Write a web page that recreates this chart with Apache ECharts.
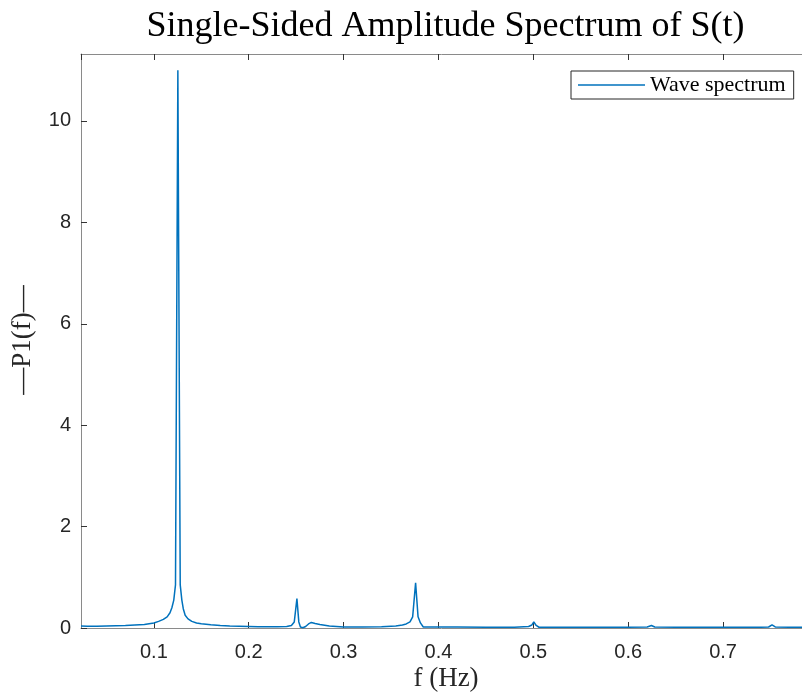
<!DOCTYPE html>
<html>
<head>
<meta charset="utf-8">
<script src="https://cdn.jsdelivr.net/npm/echarts@6/dist/echarts.min.js"></script>
<style>
html,body{margin:0;padding:0;background:#fff;}
#chart{width:802px;height:697px;}
</style>
</head>
<body>
<div id="chart"></div>
<script>
// ---- data ----
const freq = [
  0.0232, 0.03, 0.04, 0.05, 0.06, 0.07, 0.08, 0.09, 0.095,
  0.100, 0.105, 0.110, 0.114, 0.117, 0.119, 0.121, 0.1228, 0.1253, 0.1278, 0.1295, 0.131, 0.133, 0.136, 0.140, 0.145, 0.150,
  0.160, 0.170, 0.180, 0.190, 0.200, 0.210, 0.220, 0.230, 0.240,
  0.245, 0.248, 0.2508, 0.2528, 0.2545, 0.257, 0.260, 0.263, 0.266, 0.270, 0.275, 0.285, 0.300,
  0.320, 0.340, 0.355, 0.362, 0.366, 0.370, 0.3728, 0.3759, 0.3785, 0.381, 0.384, 0.390, 0.400,
  0.420, 0.450, 0.480, 0.495, 0.4985, 0.5005, 0.503, 0.506, 0.520,
  0.560, 0.600, 0.620, 0.6245, 0.628, 0.650, 0.700, 0.740, 0.748, 0.7516, 0.755, 0.770, 0.7832
];
const amp = [
  0.04, 0.035, 0.035, 0.04, 0.045, 0.05, 0.06, 0.07, 0.085,
  0.10, 0.13, 0.17, 0.22, 0.30, 0.40, 0.55, 0.85, 11.0, 0.85, 0.55, 0.38, 0.25, 0.18, 0.13, 0.10, 0.085,
  0.065, 0.05, 0.04, 0.035, 0.03, 0.025, 0.025, 0.025, 0.03,
  0.05, 0.12, 0.58, 0.12, 0.02, 0.005, 0.03, 0.08, 0.11, 0.09, 0.07, 0.04, 0.02,
  0.02, 0.025, 0.04, 0.06, 0.08, 0.12, 0.22, 0.89, 0.22, 0.10, 0.02, 0.02, 0.02,
  0.02, 0.015, 0.015, 0.03, 0.06, 0.12, 0.05, 0.015, 0.015,
  0.015, 0.015, 0.02, 0.05, 0.02, 0.015, 0.015, 0.015, 0.02, 0.06, 0.02, 0.015, 0.015
];
const seriesName = 'Wave spectrum';
const titleText = 'Single-Sided Amplitude Spectrum of S(t)';
const xLabelText = 'f (Hz)';
const yLabelText = '\u2014P1(f)\u2014';
const xMin = 0.0232, xMax = 0.7832;
const yMin = 0, yMax = 11.32;

const points = freq.map((f, i) => [f, amp[i]]);

const axisLineColor = '#8a8a8a';
const tickColor = '#333333';
const textColor = '#262626';
const lineColor = '#0072BD';

const chart = echarts.init(document.getElementById('chart'), null, {renderer: 'canvas'});
chart.setOption({
  animation: false,
  backgroundColor: '#ffffff',
  grid: {left: 81, top: 54, right: 0, bottom: 697 - 628, containLabel: false},
  legend: {
    data: [{name: seriesName, icon: 'rect', itemStyle: {color: lineColor}}],
    left: 571, top: 71,
    orient: 'vertical',
    itemWidth: 67, itemHeight: 1.5, itemGap: 0,
    padding: [3, 8, 3, 7],
    backgroundColor: '#ffffff',
    borderColor: '#262626', borderWidth: 1, borderRadius: 0,
    textStyle: {fontFamily: '"Liberation Serif", serif', fontSize: 22, color: '#000'}
  },
  xAxis: [{
    type: 'value', position: 'bottom', min: xMin, max: xMax,
    splitNumber: 8, minInterval: 0.1, maxInterval: 0.1,
    axisLine: {show: true, onZero: false, lineStyle: {color: axisLineColor, width: 1}},
    axisTick: {show: true, inside: true, length: 6, lineStyle: {color: tickColor, width: 1}},
    axisLabel: {show: true, showMinLabel: false, showMaxLabel: false, margin: 14,
      fontFamily: '"Liberation Sans", Arial, sans-serif', fontSize: 20, color: textColor},
    splitLine: {show: false}
  }, {
    type: 'value', position: 'top', min: xMin, max: xMax,
    splitNumber: 8, minInterval: 0.1, maxInterval: 0.1,
    axisLine: {show: true, onZero: false, lineStyle: {color: axisLineColor, width: 1}},
    axisTick: {show: true, inside: true, length: 6, lineStyle: {color: tickColor, width: 1}},
    axisLabel: {show: false},
    splitLine: {show: false}
  }],
  yAxis: [{
    type: 'value', min: yMin, max: yMax, interval: 2,
    axisLine: {show: true, onZero: false, lineStyle: {color: axisLineColor, width: 1}},
    axisTick: {show: true, inside: true, length: 6, lineStyle: {color: tickColor, width: 1}},
    axisLabel: {show: true, showMaxLabel: false, margin: 10,
      fontFamily: '"Liberation Sans", Arial, sans-serif', fontSize: 20, color: textColor},
    splitLine: {show: false}
  }],
  series: [{
    name: seriesName,
    type: 'line',
    xAxisIndex: 0, yAxisIndex: 0,
    data: points,
    symbol: 'none', showSymbol: false,
    lineStyle: {color: lineColor, width: 1.5},
    itemStyle: {color: lineColor},
    clip: true
  }],
  graphic: [
    {type: 'text', x: 445.5, y: 27, style: {text: titleText, font: '36px "Liberation Serif", serif', fill: '#000', align: 'center', verticalAlign: 'middle'}},
    {type: 'text', x: 446, y: 679, style: {text: xLabelText, font: '27px "Liberation Serif", serif', fill: textColor, align: 'center', verticalAlign: 'middle'}},
    {type: 'text', x: 23, y: 340, rotation: Math.PI / 2, style: {text: yLabelText, font: '27px "Liberation Serif", serif', fill: textColor, align: 'center', verticalAlign: 'middle'}}
  ]
});
</script>
</body>
</html>
